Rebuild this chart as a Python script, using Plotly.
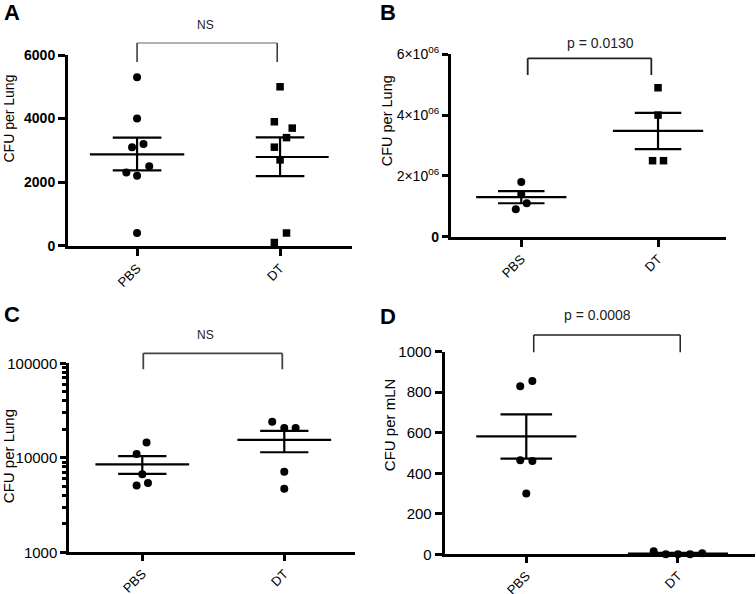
import plotly.graph_objects as go

# ---------------- data ----------------
categories = ["PBS", "DT"]

# Panel A  (CFU per Lung, linear)
A_pbs = [5300, 4000, 3200, 3100, 2500, 2300, 2200, 400]
A_dt = [5000, 3900, 3700, 3400, 3100, 2700, 400, 100]
A_mean = [2875, 2790]
A_sem_hi = [3400, 3410]
A_sem_lo = [2370, 2190]

# Panel B  (CFU per Lung, linear)
B_pbs = [1.8e6, 1.4e6, 1.1e6, 0.9e6]
B_dt = [4.9e6, 4.0e6, 2.5e6, 2.5e6]
B_mean = [1.30e6, 3.48e6]
B_sem_hi = [1.50e6, 4.07e6]
B_sem_lo = [1.10e6, 2.88e6]
B_ticks = [0, 2e6, 4e6, 6e6]
B_ticktext = ["<b>0</b>", "2×10<sup>06</sup>", "4×10<sup>06</sup>", "6×10<sup>06</sup>"]

# Panel C  (CFU per Lung, log)
C_pbs = [14500, 11000, 6700, 5400, 5100]
C_dt = [24000, 20700, 20700, 7100, 4700]
C_mean = [8540, 15450]
C_sem_hi = [10400, 19300]
C_sem_lo = [6750, 11450]

# Panel D  (CFU per mLN, linear)
D_pbs = [855, 830, 464, 460, 300]
D_dt = [15, 0, 0, 0, 5]
D_mean = [582, 4]
D_sem_hi = [691, 7]
D_sem_lo = [472, 1]

# ---------------- layout helpers ----------------
W, H = 756, 594
def px(x): return x / W
def py(y): return 1 - y / H

# jitter offsets (category units) for the scatter points
A_pbs_off = [0, 0, 0.045, -0.035, 0.085, -0.075, 0, 0]
A_dt_off = [0, -0.04, 0.085, 0.045, -0.04, 0, 0.045, -0.04]
B_pbs_off = [0, 0, 0.04, -0.04]
B_dt_off = [0, 0, -0.04, 0.04]
C_pbs_off = [0.03, -0.04, 0, 0.04, -0.04]
C_dt_off = [-0.085, 0, 0.08, 0, 0]
D_pbs_off = [0.04, -0.04, -0.04, 0.04, 0]
D_dt_off = [-0.16, -0.08, 0, 0.08, 0.16]

panels = [
    dict(ax="", pbs=A_pbs, dt=A_dt, po=A_pbs_off, do=A_dt_off, mean=A_mean, hi=A_sem_hi, lo=A_sem_lo,
         dt_symbol="square", mean_ext=[(-0.33, 0.33), (-0.17, 0.34)]),
    dict(ax="2", pbs=B_pbs, dt=B_dt, po=B_pbs_off, do=B_dt_off, mean=B_mean, hi=B_sem_hi, lo=B_sem_lo,
         dt_symbol="square", mean_ext=[(-0.33, 0.33), (-0.33, 0.33)]),
    dict(ax="3", pbs=C_pbs, dt=C_dt, po=C_pbs_off, do=C_dt_off, mean=C_mean, hi=C_sem_hi, lo=C_sem_lo,
         dt_symbol="circle", mean_ext=[(-0.33, 0.33), (-0.33, 0.33)]),
    dict(ax="4", pbs=D_pbs, dt=D_dt, po=D_pbs_off, do=D_dt_off, mean=D_mean, hi=D_sem_hi, lo=D_sem_lo,
         dt_symbol="circle", mean_ext=[(-0.33, 0.33), (-0.33, 0.33)]),
]

fig = go.Figure()

for p in panels:
    xa, ya = "x" + p["ax"], "y" + p["ax"]
    fig.add_trace(go.Scatter(
        x=[0 + o for o in p["po"]], y=p["pbs"], mode="markers", xaxis=xa, yaxis=ya,
        marker=dict(symbol="circle", size=8, color="black"), cliponaxis=False, showlegend=False))
    fig.add_trace(go.Scatter(
        x=[1 + o for o in p["do"]], y=p["dt"], mode="markers", xaxis=xa, yaxis=ya,
        marker=dict(symbol=p["dt_symbol"], size=8 if p["dt_symbol"] == "circle" else 7.5, color="black"),
        cliponaxis=False, showlegend=False))
    lx, ly = [], []
    for c in range(2):
        e0, e1 = p["mean_ext"][c]
        m, hi, lo = p["mean"][c], p["hi"][c], p["lo"][c]
        lx += [c + e0, c + e1, None, c - 0.17, c + 0.17, None, c - 0.17, c + 0.17, None, c, c, None]
        ly += [m, m, None, hi, hi, None, lo, lo, None, lo, hi, None]
    fig.add_trace(go.Scatter(x=lx, y=ly, mode="lines", xaxis=xa, yaxis=ya,
                             line=dict(color="black", width=2.2), showlegend=False, hoverinfo="skip"))

FONT = "Liberation Sans, Arial, sans-serif"

def xaxis(x0, x1, anchor, rng, lw=3, tl=7):
    return dict(domain=[px(x0), px(x1)], range=rng, anchor=anchor, tickvals=[0, 1], ticktext=categories,
                tickangle=-45, ticks="outside", ticklen=tl, tickwidth=lw, tickcolor="black",
                showline=True, linewidth=lw, linecolor="black", showgrid=False, zeroline=False,
                tickfont=dict(family=FONT, size=13, color="black"), automargin=False, fixedrange=True)

def yaxis(ytop, ybot, **kw):
    d = dict(domain=[py(ybot), py(ytop)], showline=True, linecolor="black", showgrid=False,
             zeroline=False, ticks="outside", tickcolor="black", automargin=False, fixedrange=True)
    d.update(kw)
    return d

layout = dict(
    width=W, height=H, margin=dict(l=0, r=0, t=0, b=0),
    paper_bgcolor="white", plot_bgcolor="white", showlegend=False,
    font=dict(family=FONT, color="black"),
    xaxis=xaxis(68, 352, "y", [-0.483, 1.503]),
    yaxis=yaxis(55, 245.7, anchor="x", range=[0, 6000], tickvals=[0, 2000, 4000, 6000],
                linewidth=3, ticklen=7, tickwidth=3,
                tickfont=dict(family=FONT, size=14, color="black", weight="bold")),
    xaxis2=xaxis(450.7, 726, "y2", [-0.516, 1.497], lw=2.6),
    yaxis2=yaxis(54.3, 236.7, anchor="x2", range=[0, 6e6], tickvals=B_ticks, ticktext=B_ticktext,
                 linewidth=2.6, ticklen=6, tickwidth=2.6,
                 tickfont=dict(family=FONT, size=14, color="black")),
    xaxis3=xaxis(69.3, 355, "y3", [-0.514, 1.498], tl=6),
    yaxis3=yaxis(363.3, 552.3, anchor="x3", type="log", range=[3, 5], tickvals=[1000, 10000, 100000],
                 ticktext=["1000", "10000", "100000"], linewidth=3, ticklen=6, tickwidth=3,
                 tickfont=dict(family=FONT, size=15, color="black"),
                 minor=dict(tickvals=[m * 10 ** e for e in (3, 4) for m in range(2, 10)],
                            ticks="outside", ticklen=4, tickwidth=2.5, tickcolor="black")),
    xaxis4=xaxis(444.7, 754.7, "y4", [-0.538, 1.506], tl=6),
    yaxis4=yaxis(351.7, 554.3, anchor="x4", range=[0, 1000], tickvals=[0, 200, 400, 600, 800, 1000],
                 linewidth=3, ticklen=7, tickwidth=3,
                 tickfont=dict(family=FONT, size=15, color="black")),
)
fig.update_layout(**layout)

# significance brackets
def bracket(xref, xa, xb, ytop, ybot, hcolor, vcolor, w):
    fig.add_shape(type="line", xref=xref, yref="paper", x0=xa, x1=xb, y0=py(ytop), y1=py(ytop),
                  line=dict(color=hcolor, width=w))
    for xv in (xa, xb):
        fig.add_shape(type="line", xref=xref, yref="paper", x0=xv, x1=xv, y0=py(ytop), y1=py(ybot),
                      line=dict(color=vcolor, width=w))

bracket("x", 0, 0.98, 43, 62, "#9a9a9a", "#333333", 1.5)
bracket("x2", 0.047, 0.951, 58.3, 75, "#222222", "#222222", 1.8)
bracket("x3", 0.007, 0.986, 353.3, 369.3, "#444444", "#444444", 1.8)
bracket("x4", 0.049, 1.015, 335, 352.3, "#222222", "#222222", 1.5)

annotations = [
    ("A", 11.7, 12, 22, "bold"), ("B", 388, 12, 22, "bold"),
    ("C", 11.5, 314.5, 22, "bold"), ("D", 388, 316, 22, "bold"),
]
for t, x, y, s, wgt in annotations:
    fig.add_annotation(text=t, x=px(x), y=py(y), xref="paper", yref="paper", showarrow=False,
                       xanchor="center", yanchor="middle",
                       font=dict(family=FONT, size=s, color="black", weight=wgt))

for t, x, y, s in [("NS", 205, 25, 12), ("p = 0.0130", 600.7, 42.7, 14),
                   ("NS", 205, 335, 12), ("p = 0.0008", 597.3, 315, 14)]:
    fig.add_annotation(text=t, x=px(x), y=py(y), xref="paper", yref="paper", showarrow=False,
                       xanchor="center", yanchor="middle", font=dict(family=FONT, size=s, color="#222222"))

for t, x, y, s in [("CFU per Lung", 8.5, 119, 14), ("CFU per Lung", 386.5, 120.8, 14.5),
                   ("CFU per Lung", 8.5, 456.7, 15), ("CFU per mLN", 389.2, 425, 15)]:
    fig.add_annotation(text=t, x=px(x), y=py(y), xref="paper", yref="paper", showarrow=False,
                       textangle=-90, xanchor="center", yanchor="middle",
                       font=dict(family=FONT, size=s, color="black"))

fig.write_html("out.html", config=dict(displayModeBar=False),
               post_script="document.body.style.margin='0';document.body.style.overflow='hidden';")
